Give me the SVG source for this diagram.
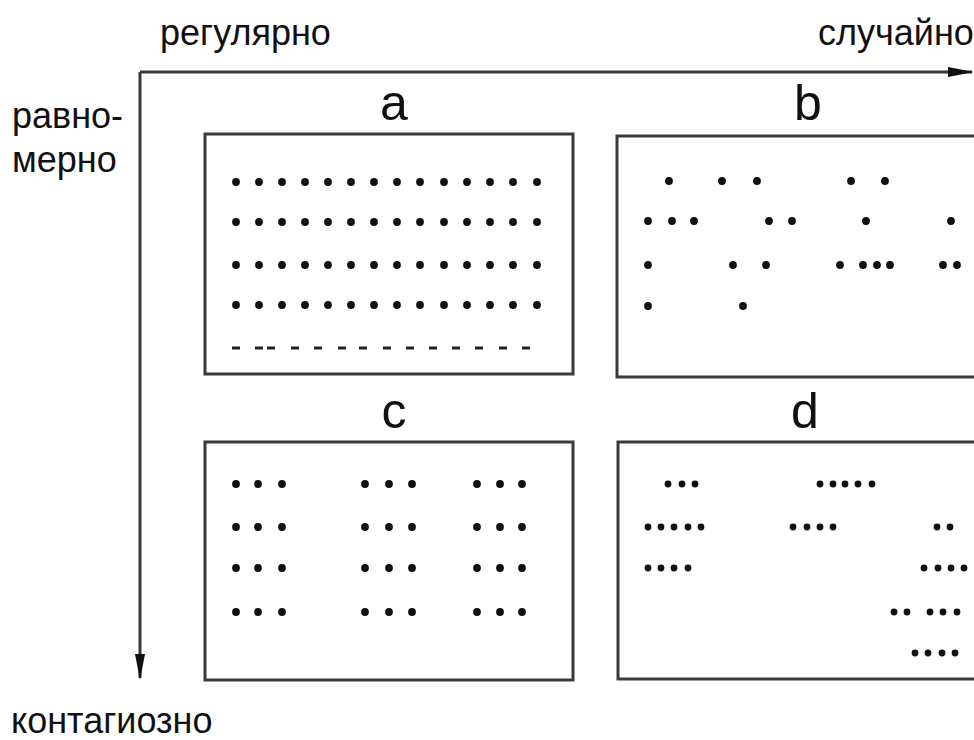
<svg xmlns="http://www.w3.org/2000/svg" width="974" height="740" viewBox="0 0 974 740">
<style>
text{font-family:"Liberation Sans",Arial,sans-serif;fill:#111}
.ax{font-size:36px}
.lb{font-size:50px;text-anchor:middle}
.box{fill:#fff;stroke:#3a3a3a;stroke-width:3}
.axis{stroke:#3a3a3a;stroke-width:3;fill:none}
.dot{fill:#111}
.dash{fill:#222}
</style>
<defs>
<marker id="ah" markerWidth="26" markerHeight="12" refX="24" refY="6" orient="auto" markerUnits="userSpaceOnUse">
<path d="M0,1 L26,6 L0,11 Z" fill="#111"/>
</marker>
<circle id="d" r="3.9" class="dot"/>
<circle id="s" r="3.4" class="dot"/>
</defs>
<rect width="974" height="740" fill="#fff"/>

<g id="axes-labels">
<text class="ax" x="160" y="45">регулярно</text>
<text class="ax" x="818" y="45">случайно</text>
<text class="ax" x="12" y="128">равно-</text>
<text class="ax" x="12" y="172">мерно</text>
<text class="ax" x="11" y="733">контагиозно</text>
</g>

<g id="connectors">
<path class="axis" d="M140,72 H972" marker-end="url(#ah)"/>
<path class="axis" d="M140,72 V678" marker-end="url(#ah)"/>
</g>

<g id="panel-a">
<text class="lb" x="394" y="120">a</text>
<rect class="box" x="205" y="134" width="368" height="240"/>
<g>
<use href="#d" x="236" y="182"/><use href="#d" x="259" y="182"/><use href="#d" x="282" y="182"/><use href="#d" x="305" y="182"/><use href="#d" x="328" y="182"/><use href="#d" x="351" y="182"/><use href="#d" x="374" y="182"/><use href="#d" x="397" y="182"/><use href="#d" x="420" y="182"/><use href="#d" x="444" y="182"/><use href="#d" x="467" y="182"/><use href="#d" x="490" y="182"/><use href="#d" x="513" y="182"/><use href="#d" x="537" y="182"/>
<use href="#d" x="236" y="222"/><use href="#d" x="259" y="222"/><use href="#d" x="282" y="222"/><use href="#d" x="305" y="222"/><use href="#d" x="328" y="222"/><use href="#d" x="351" y="222"/><use href="#d" x="374" y="222"/><use href="#d" x="397" y="222"/><use href="#d" x="420" y="222"/><use href="#d" x="444" y="222"/><use href="#d" x="467" y="222"/><use href="#d" x="490" y="222"/><use href="#d" x="513" y="222"/><use href="#d" x="537" y="222"/>
<use href="#d" x="236" y="265"/><use href="#d" x="259" y="265"/><use href="#d" x="282" y="265"/><use href="#d" x="305" y="265"/><use href="#d" x="328" y="265"/><use href="#d" x="351" y="265"/><use href="#d" x="374" y="265"/><use href="#d" x="397" y="265"/><use href="#d" x="420" y="265"/><use href="#d" x="444" y="265"/><use href="#d" x="467" y="265"/><use href="#d" x="490" y="265"/><use href="#d" x="513" y="265"/><use href="#d" x="537" y="265"/>
<use href="#d" x="236" y="305"/><use href="#d" x="259" y="305"/><use href="#d" x="282" y="305"/><use href="#d" x="305" y="305"/><use href="#d" x="328" y="305"/><use href="#d" x="351" y="305"/><use href="#d" x="374" y="305"/><use href="#d" x="397" y="305"/><use href="#d" x="420" y="305"/><use href="#d" x="444" y="305"/><use href="#d" x="467" y="305"/><use href="#d" x="490" y="305"/><use href="#d" x="513" y="305"/><use href="#d" x="537" y="305"/>
</g>
<g class="dash">
<rect x="232" y="346.5" width="8" height="3"/><rect x="255" y="346.5" width="8" height="3"/><rect x="267" y="346.5" width="8" height="3"/><rect x="291" y="346.5" width="8" height="3"/><rect x="314" y="346.5" width="8" height="3"/><rect x="338" y="346.5" width="8" height="3"/><rect x="359" y="346.5" width="8" height="3"/><rect x="383" y="346.5" width="8" height="3"/><rect x="406" y="346.5" width="8" height="3"/><rect x="429" y="346.5" width="8" height="3"/><rect x="452" y="346.5" width="8" height="3"/><rect x="475" y="346.5" width="8" height="3"/><rect x="499" y="346.5" width="8" height="3"/><rect x="522" y="346.5" width="8" height="3"/>
</g>
</g>

<g id="panel-b">
<text class="lb" x="808" y="120">b</text>
<rect class="box" x="617" y="136" width="380" height="241"/>
<use href="#d" x="669" y="181"/><use href="#d" x="722" y="181"/><use href="#d" x="757" y="181"/><use href="#d" x="851" y="181"/><use href="#d" x="885" y="181"/>
<use href="#d" x="648" y="221"/><use href="#d" x="672" y="221"/><use href="#d" x="694" y="221"/><use href="#d" x="769" y="221"/><use href="#d" x="792" y="221"/><use href="#d" x="866" y="221"/><use href="#d" x="951" y="221"/>
<use href="#d" x="648" y="265"/><use href="#d" x="733" y="265"/><use href="#d" x="766" y="265"/><use href="#d" x="840" y="265"/><use href="#d" x="863" y="265"/><use href="#d" x="877" y="265"/><use href="#d" x="890" y="265"/><use href="#d" x="943" y="265"/><use href="#d" x="957" y="265"/>
<use href="#d" x="648" y="306"/><use href="#d" x="743" y="306"/>
</g>

<g id="panel-c">
<text class="lb" x="394" y="428">c</text>
<rect class="box" x="205" y="442" width="368" height="238"/>
<use href="#d" x="236" y="484"/><use href="#d" x="258" y="484"/><use href="#d" x="282" y="484"/><use href="#d" x="365" y="484"/><use href="#d" x="389" y="484"/><use href="#d" x="412" y="484"/><use href="#d" x="477" y="484"/><use href="#d" x="500" y="484"/><use href="#d" x="522" y="484"/>
<use href="#d" x="236" y="527"/><use href="#d" x="258" y="527"/><use href="#d" x="282" y="527"/><use href="#d" x="365" y="527"/><use href="#d" x="389" y="527"/><use href="#d" x="412" y="527"/><use href="#d" x="477" y="527"/><use href="#d" x="500" y="527"/><use href="#d" x="522" y="527"/>
<use href="#d" x="236" y="568"/><use href="#d" x="258" y="568"/><use href="#d" x="282" y="568"/><use href="#d" x="365" y="568"/><use href="#d" x="389" y="568"/><use href="#d" x="412" y="568"/><use href="#d" x="477" y="568"/><use href="#d" x="500" y="568"/><use href="#d" x="522" y="568"/>
<use href="#d" x="236" y="612"/><use href="#d" x="258" y="612"/><use href="#d" x="282" y="612"/><use href="#d" x="365" y="612"/><use href="#d" x="389" y="612"/><use href="#d" x="412" y="612"/><use href="#d" x="477" y="612"/><use href="#d" x="500" y="612"/><use href="#d" x="522" y="612"/>
</g>

<g id="panel-d">
<text class="lb" x="805" y="428">d</text>
<rect class="box" x="618" y="442" width="380" height="237"/>
<use href="#s" x="668" y="484"/><use href="#s" x="682" y="484"/><use href="#s" x="695" y="484"/>
<use href="#s" x="820" y="484"/><use href="#s" x="833" y="484"/><use href="#s" x="845" y="484"/><use href="#s" x="858" y="484"/><use href="#s" x="872" y="484"/>
<use href="#s" x="648" y="527"/><use href="#s" x="661" y="527"/><use href="#s" x="674" y="527"/><use href="#s" x="688" y="527"/><use href="#s" x="701" y="527"/>
<use href="#s" x="793" y="527"/><use href="#s" x="807" y="527"/><use href="#s" x="820" y="527"/><use href="#s" x="833" y="527"/>
<use href="#s" x="937" y="527"/><use href="#s" x="950" y="527"/>
<use href="#s" x="648" y="568"/><use href="#s" x="661" y="568"/><use href="#s" x="674" y="568"/><use href="#s" x="688" y="568"/>
<use href="#s" x="924" y="568"/><use href="#s" x="938" y="568"/><use href="#s" x="951" y="568"/><use href="#s" x="964" y="568"/>
<use href="#s" x="894" y="612"/><use href="#s" x="907" y="612"/>
<use href="#s" x="930" y="612"/><use href="#s" x="943" y="612"/><use href="#s" x="957" y="612"/>
<use href="#s" x="915" y="653"/><use href="#s" x="928" y="653"/><use href="#s" x="942" y="653"/><use href="#s" x="955" y="653"/>
</g>
</svg>
